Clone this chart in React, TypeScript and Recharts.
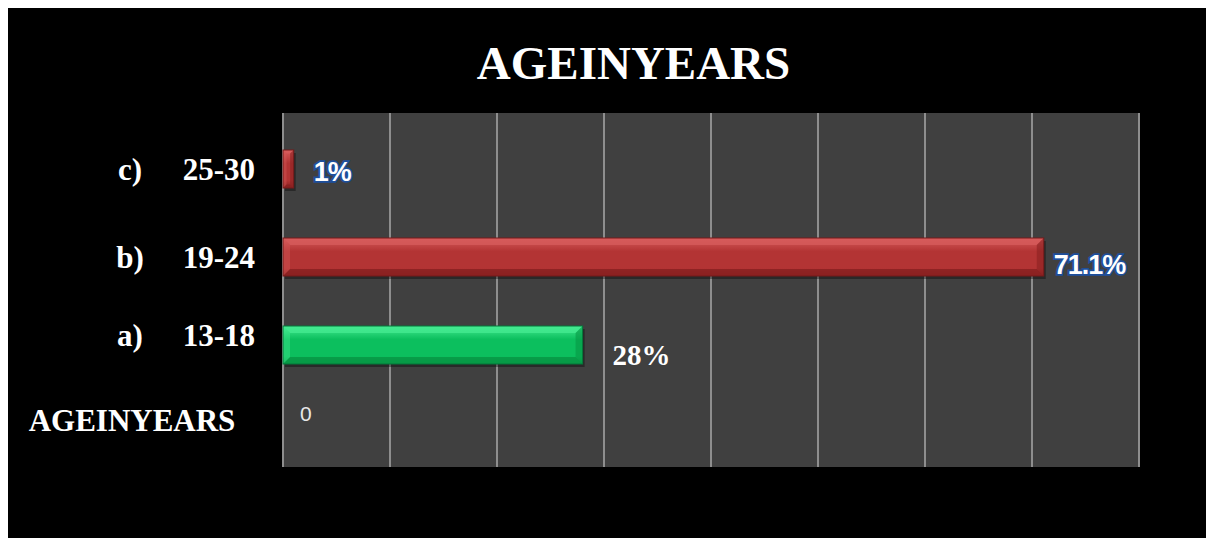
import React from 'react';
import { BarChart, Bar, XAxis, YAxis, CartesianGrid, LabelList } from 'recharts';

// top-to-bottom order, as in the picture
const categories = ['c)  25-30', 'b)  19-24', 'a)  13-18', 'AGEINYEARS'];
const values = [1, 71.1, 28, 0];
const valueLabels = ['1%', '71.1%', '28%', '0'];
const xTicks = [0, 10, 20, 30, 40, 50, 60, 70, 80];

const data = categories.map((name, i) => ({ name, value: values[i], label: valueLabels[i] }));

const W = 1206;
const H = 538;

const red = { main: '#b33434', top: '#d65b5b', bottom: '#8a2121', edge: '#741a1a', id: 'gRed' };
const green = { main: '#0cbf5e', top: '#44ea90', bottom: '#079845', edge: '#05773a', id: 'gGreen' };
const barColors = [red, red, green, red];

// per-row label look (offsets from the bar end / bar middle)
const labelLook = [
  { dx: 20, dy: 3, kind: 'glow' },
  { dx: 10, dy: 8, kind: 'glow' },
  { dx: 30, dy: 10, kind: 'serif' },
  { dx: 17, dy: -20, kind: 'plain' },
];
// the category texts don't sit quite on the band middle in the original
const tickShift = [11, 11, 1, -2];

const BevelBar = (props: any) => {
  const { x, y, width, height, index } = props;
  if (!width || width <= 0) return null;
  const c = barColors[index];
  const b = Math.min(7, width / 3, height / 4);
  return (
    <g>
      <rect x={x + 2} y={y + 3} width={width} height={height} fill="rgba(0,0,0,0.35)" />
      <rect x={x} y={y} width={width} height={height} fill={`url(#${c.id})`} />
      <polygon points={`${x},${y} ${x + width},${y} ${x + width - b},${y + b} ${x + b},${y + b}`} fill={c.top} opacity={0.8} />
      <polygon
        points={`${x},${y + height} ${x + width},${y + height} ${x + width - b},${y + height - b} ${x + b},${y + height - b}`}
        fill={c.bottom}
        opacity={0.85}
      />
      <polygon
        points={`${x + width},${y} ${x + width},${y + height} ${x + width - b},${y + height - b} ${x + width - b},${y + b}`}
        fill={c.bottom}
        opacity={0.6}
      />
      <polygon points={`${x},${y} ${x},${y + height} ${x + b},${y + height - b} ${x + b},${y + b}`} fill={c.top} opacity={0.4} />
      <rect x={x} y={y} width={width} height={height} fill="none" stroke={c.edge} strokeWidth={1} />
    </g>
  );
};

const ValueLabel = (props: any) => {
  const { x, y, width, height, index, value } = props;
  const look = labelLook[index];
  const lx = x + width + look.dx;
  const ly = y + height / 2 + look.dy;
  if (look.kind === 'glow') {
    return (
      <text
        x={lx}
        y={ly}
        dominantBaseline="central"
        fill="#ffffff"
        stroke="#1d4f9c"
        strokeWidth={3.5}
        paintOrder="stroke"
        fontFamily="'Liberation Sans', Arial, sans-serif"
        fontWeight="bold"
        fontSize={27}
        letterSpacing={-1}
      >
        {value}
      </text>
    );
  }
  if (look.kind === 'serif') {
    return (
      <text x={lx} y={ly} dominantBaseline="central" fill="#ffffff" fontFamily="'Liberation Serif', 'Times New Roman', serif" fontWeight="bold" fontSize={29}>
        {value}
      </text>
    );
  }
  return (
    <text x={lx} y={ly} dominantBaseline="central" fill="#e8e8e8" fontFamily="'Liberation Sans', Arial, sans-serif" fontSize={21}>
      {value}
    </text>
  );
};

const CategoryTick = (props: any) => {
  const { y, payload, index } = props;
  const parts = String(payload.value).split(/\s+/);
  const by = y + tickShift[index];
  const font = { fontFamily: "'Liberation Serif', 'Times New Roman', serif", fontWeight: 'bold' as const, fontSize: 31, fill: '#ffffff' };
  if (parts.length === 2) {
    return (
      <g>
        <text x={122} y={by} textAnchor="middle" {...font}>
          {parts[0]}
        </text>
        <text x={247} y={by} textAnchor="end" {...font}>
          {parts[1]}
        </text>
      </g>
    );
  }
  return (
    <text x={124} y={by} textAnchor="middle" {...font}>
      {payload.value}
    </text>
  );
};

export default function App() {
  return (
    <div style={{ position: 'relative', width: W, height: H, background: '#000000', marginBottom: -8 }}>
      <div
        style={{
          position: 'absolute',
          left: 0,
          top: 27,
          width: 1251,
          textAlign: 'center',
          color: '#ffffff',
          fontFamily: "'Liberation Serif', 'Times New Roman', serif",
          fontWeight: 'bold',
          fontSize: 47,
          lineHeight: '56px',
        }}
      >
        AGEINYEARS
      </div>
      <BarChart
        width={W}
        height={H}
        data={data}
        layout="vertical"
        margin={{ top: 105, right: 75, bottom: 79, left: 0 }}
        barSize={38}
        style={{ position: 'absolute', left: 0, top: 0 }}
      >
        <defs>
          {[red, green].map((c) => (
            <linearGradient key={c.id} id={c.id} x1="0" y1="0" x2="0" y2="1">
              <stop offset="0%" stopColor={c.top} />
              <stop offset="35%" stopColor={c.main} />
              <stop offset="80%" stopColor={c.main} />
              <stop offset="100%" stopColor={c.bottom} />
            </linearGradient>
          ))}
        </defs>
        <CartesianGrid horizontal={false} fill="#404040" stroke="#8e8e8e" strokeWidth={2} strokeOpacity={1} />
        <XAxis type="number" domain={[0, 80]} ticks={xTicks} hide />
        <YAxis
          type="category"
          dataKey="name"
          width={275}
          axisLine={false}
          tickLine={false}
          tick={<CategoryTick />}
          padding={{ top: 12, bottom: -10 }}
        />
        <Bar dataKey="value" shape={<BevelBar />} isAnimationActive={false}>
          <LabelList dataKey="label" content={<ValueLabel />} />
        </Bar>
      </BarChart>
    </div>
  );
}
